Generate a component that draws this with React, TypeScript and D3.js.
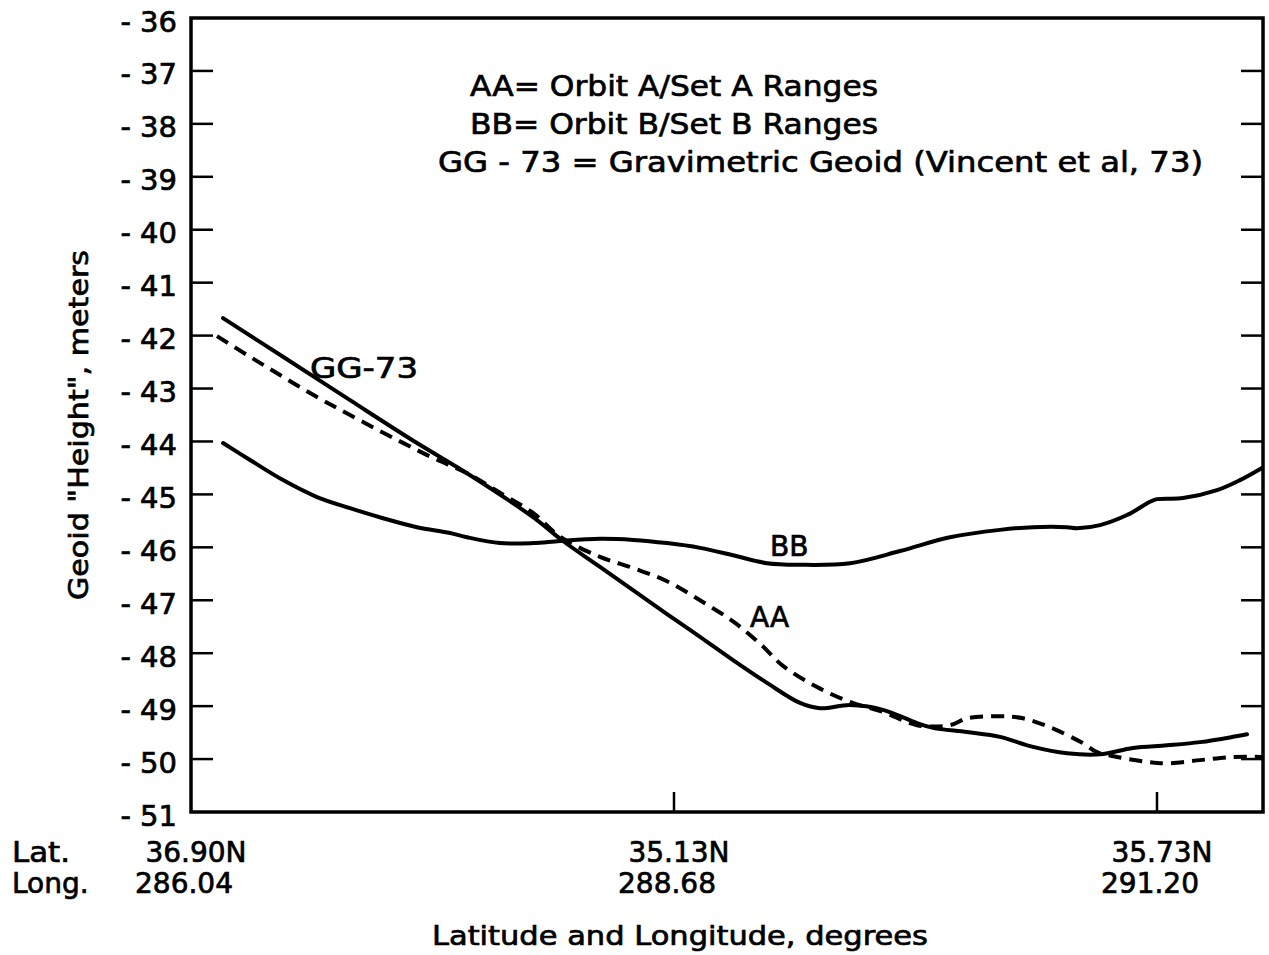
import React from "react";
import * as d3 from "d3";

// along-track position (0 = 36.90N/286.04, 1 = 35.13N/288.68, 2 = 35.73N/291.20)
const ggPos = [0.0663, 0.1905, 0.3292, 0.4679, 0.5714, 0.7081, 0.7702, 0.8468, 0.9855, 1.0538, 1.1222, 1.1925, 1.2609, 1.3023, 1.3644, 1.4327, 1.5031, 1.5362, 1.6066, 1.6749, 1.7433, 1.8137, 1.882, 1.9503, 2.0207, 2.089, 2.1573, 2.1863];
const ggVal = [-41.67, -42.4, -43.22, -44.03, -44.6, -45.43, -45.88, -46.37, -47.26, -47.69, -48.13, -48.56, -48.94, -49.04, -48.98, -49.07, -49.32, -49.41, -49.49, -49.58, -49.77, -49.89, -49.91, -49.79, -49.74, -49.68, -49.58, -49.53];

const aaPos = [0.0538, 0.1222, 0.1905, 0.2609, 0.3292, 0.4265, 0.501, 0.5714, 0.6398, 0.7081, 0.764, 0.8468, 0.9151, 0.9855, 1.0538, 1.1222, 1.1781, 1.2257, 1.2961, 1.3644, 1.4327, 1.5031, 1.5714, 1.6066, 1.6749, 1.7226, 1.7785, 1.8468, 1.8758, 1.9172, 1.9855, 2.0207, 2.089, 2.1573, 2.2174];
const aaVal = [-42.01, -42.4, -42.78, -43.16, -43.5, -43.97, -44.31, -44.6, -44.97, -45.35, -45.8, -46.18, -46.39, -46.64, -47.0, -47.4, -47.82, -48.24, -48.64, -48.92, -49.11, -49.36, -49.36, -49.23, -49.19, -49.23, -49.4, -49.7, -49.87, -49.96, -50.06, -50.08, -50.02, -49.96, -49.96];

const bbPos = [0.0663, 0.1222, 0.1905, 0.2609, 0.3292, 0.3975, 0.4679, 0.5362, 0.5714, 0.6398, 0.7081, 0.764, 0.8468, 0.9151, 0.9855, 1.0538, 1.1222, 1.1925, 1.2609, 1.3644, 1.4679, 1.5714, 1.6749, 1.7433, 1.8137, 1.8344, 1.882, 1.9379, 1.9855, 2.0, 2.0538, 2.1242, 2.1718, 2.2174];
const bbVal = [-44.03, -44.35, -44.73, -45.05, -45.26, -45.45, -45.62, -45.73, -45.81, -45.92, -45.92, -45.88, -45.84, -45.86, -45.92, -46.01, -46.15, -46.3, -46.33, -46.3, -46.07, -45.81, -45.67, -45.62, -45.62, -45.64, -45.58, -45.39, -45.14, -45.09, -45.07, -44.92, -44.73, -44.5];

const yTicks = [-36, -37, -38, -39, -40, -41, -42, -43, -44, -45, -46, -47, -48, -49, -50, -51];
const xTickPos = [0, 1, 2];
const latLabels = ["36.90N", "35.13N", "35.73N"];
const longLabels = ["286.04", "288.68", "291.20"];
const legendLines = [
  "AA= Orbit A/Set A Ranges",
  "BB= Orbit B/Set B Ranges",
  "GG - 73 = Gravimetric Geoid (Vincent et al, 73)",
];

const FONT = "'DejaVu Sans', sans-serif";
const TXT = { fill: "#000", stroke: "#000", strokeWidth: 0.7 };

export default function App() {
  const x = d3.scaleLinear().domain([0, 2]).range([191, 1157]);
  const xMax = 2.2195;
  const y = d3.scaleLinear().domain([-36, -51]).range([18, 812]);

  const line = d3
    .line<[number, number]>()
    .x((d) => x(d[0]))
    .y((d) => y(d[1]))
    .curve(d3.curveCatmullRom.alpha(0.5));

  const gg = line(ggPos.map((p, i) => [p, ggVal[i]]) as [number, number][]) || "";
  const aa = line(aaPos.map((p, i) => [p, aaVal[i]]) as [number, number][]) || "";
  const bb = line(bbPos.map((p, i) => [p, bbVal[i]]) as [number, number][]) || "";

  const x0 = x(0);
  const x1 = x(xMax);
  const yTop = y(-36);
  const yBot = y(-51);

  return (
    <svg
      width={1269}
      height={955}
      style={{ position: "absolute", left: 0, top: 0, background: "#fff" }}
      fontFamily={FONT}
    >
      <rect x={0} y={0} width={1269} height={955} fill="#fff" />
      {/* frame */}
      <rect x={x0} y={yTop} width={x1 - x0} height={yBot - yTop} fill="none" stroke="#000" strokeWidth={3.5} />
      {/* y ticks */}
      {yTicks.map((t) => (
        <g key={t}>
          {t !== -36 && t !== -51 && (
            <>
              <line x1={x0} x2={x0 + 22} y1={y(t)} y2={y(t)} stroke="#000" strokeWidth={2.5} />
              <line x1={x1 - 22} x2={x1} y1={y(t)} y2={y(t)} stroke="#000" strokeWidth={2.5} />
            </>
          )}
          <text x={177} y={y(t) + 13.5} fontSize={29} textAnchor="end" {...TXT}>
            {"- " + Math.abs(t)}
          </text>
        </g>
      ))}
      {/* x ticks */}
      {xTickPos.map((p, i) => (
        <g key={p}>
          {p !== 0 && <line x1={x(p)} x2={x(p)} y1={yBot} y2={yBot - 20} stroke="#000" strokeWidth={2.5} />}
          <text x={x(p) + 5} y={862} fontSize={28} textAnchor="middle" {...TXT}>
            {latLabels[i]}
          </text>
          <text x={x(p) - 7} y={893} fontSize={28} textAnchor="middle" {...TXT}>
            {longLabels[i]}
          </text>
        </g>
      ))}
      <text x={12} y={862} fontSize={28} textLength={58} lengthAdjust="spacingAndGlyphs" {...TXT}>Lat.</text>
      <text x={12} y={893} fontSize={28} {...TXT}>Long.</text>

      {/* curves */}
      <path d={gg} fill="none" stroke="#000" strokeWidth={4} strokeLinecap="round" />
      <path d={bb} fill="none" stroke="#000" strokeWidth={4} strokeLinecap="round" />
      <path d={aa} fill="none" stroke="#000" strokeWidth={4} strokeDasharray="13 8" />

      {/* curve labels */}
      <text x={310} y={378} fontSize={28} textLength={108} lengthAdjust="spacingAndGlyphs" {...TXT}>GG-73</text>
      <text x={770} y={556} fontSize={28} {...TXT}>BB</text>
      <text x={750} y={627} fontSize={28} {...TXT}>AA</text>

      {/* legend */}
      <text x={470} y={96} fontSize={29} textLength={408} lengthAdjust="spacingAndGlyphs" {...TXT}>{legendLines[0]}</text>
      <text x={470} y={134} fontSize={29} textLength={408} lengthAdjust="spacingAndGlyphs" {...TXT}>{legendLines[1]}</text>
      <text x={438} y={172} fontSize={29} textLength={765} lengthAdjust="spacingAndGlyphs" {...TXT}>{legendLines[2]}</text>

      {/* axis titles */}
      <text
        transform={`translate(88, 425) rotate(-90)`}
        fontSize={27}
        textAnchor="middle"
        textLength={350}
        lengthAdjust="spacingAndGlyphs"
        {...TXT}
      >
        Geoid "Height", meters
      </text>
      <text x={680} y={945} fontSize={27} textAnchor="middle" textLength={496} lengthAdjust="spacingAndGlyphs" {...TXT}>
        Latitude and Longitude, degrees
      </text>
    </svg>
  );
}
